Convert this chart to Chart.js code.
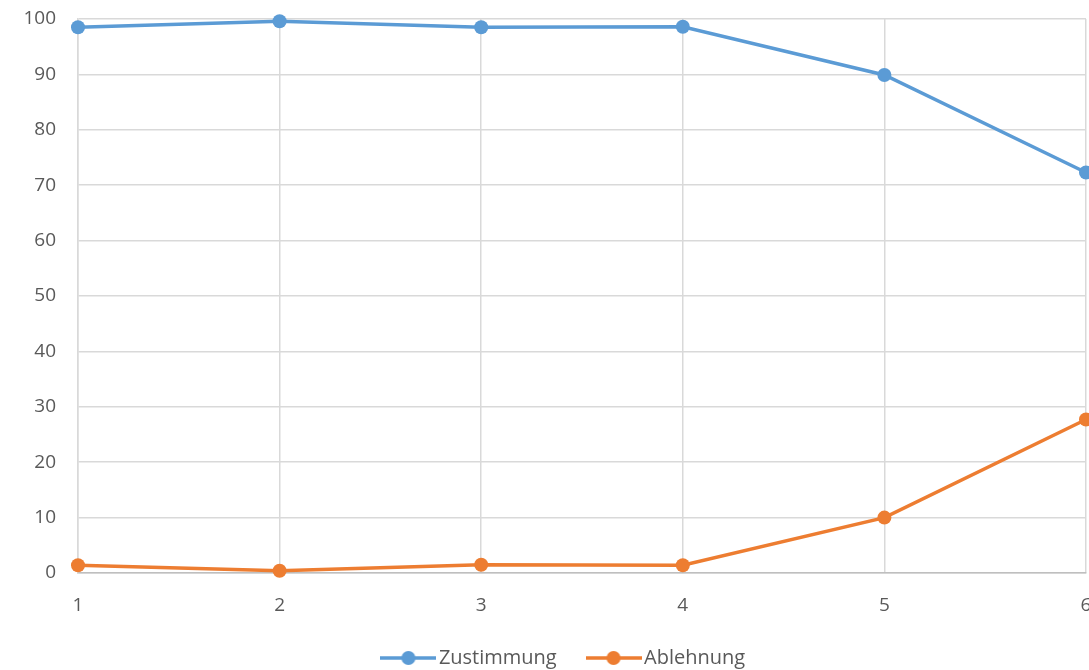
<!DOCTYPE html>
<html>
<head>
<meta charset="utf-8">
<script src="https://cdn.jsdelivr.net/npm/chart.js@4.4.1/dist/chart.umd.min.js"></script>
<style>
  html, body { margin: 0; padding: 0; background: #fff; overflow: hidden; }
  #wrap { width: 1089px; height: 670px; overflow: hidden; }
</style>
</head>
<body>
<div id="wrap"><canvas id="chart" width="1093" height="670"></canvas></div>
<script>
var categories = ['1', '2', '3', '4', '5', '6'];
var zustimmung = [98.5, 99.6, 98.5, 98.6, 89.9, 72.3];
var ablehnung = [1.4, 0.4, 1.5, 1.4, 10.0, 27.7];
var seriesNames = ['Zustimmung', 'Ablehnung'];
var blue = '#5B9BD5';
var orange = '#ED7D31';

// little line-with-dot marker for the legend
function legendMarker(color) {
    var c = document.createElement('canvas');
    c.width = 56;
    c.height = 16;
    var g = c.getContext('2d');
    g.strokeStyle = color;
    g.lineWidth = 3.5;
    g.beginPath();
    g.moveTo(0, 8);
    g.lineTo(56, 8);
    g.stroke();
    g.fillStyle = color;
    g.beginPath();
    g.arc(28, 8, 7, 0, Math.PI * 2);
    g.fill();
    return c;
}

// nudge the legend a bit to the right, like the original
var legendShift = {
    id: 'legendShift',
    afterLayout: function (chart) {
        if (chart.legend) {
            chart.legend.left += 20;
            chart.legend.right += 20;
        }
    }
};

var font = { family: "'Open Sans', 'Liberation Sans', sans-serif", size: 19 };
var legendFont = { family: "'Open Sans', 'Liberation Sans', sans-serif", size: 20 };

new Chart(document.getElementById('chart').getContext('2d'), {
    type: 'line',
    data: {
        labels: categories,
        datasets: [{
            label: seriesNames[0],
            data: zustimmung,
            borderColor: blue,
            backgroundColor: blue,
            borderWidth: 3.5,
            pointRadius: 7,
            pointHoverRadius: 7,
            pointBorderWidth: 0,
            pointStyle: 'circle',
            tension: 0,
            clip: false
        }, {
            label: seriesNames[1],
            data: ablehnung,
            borderColor: orange,
            backgroundColor: orange,
            borderWidth: 3.5,
            pointRadius: 7,
            pointHoverRadius: 7,
            pointBorderWidth: 0,
            pointStyle: 'circle',
            tension: 0,
            clip: false
        }]
    },
    plugins: [legendShift],
    options: {
        responsive: false,
        animation: false,
        layout: { padding: { top: 0, right: 0, left: 0, bottom: -8 } },
        plugins: {
            tooltip: { enabled: false },
            legend: {
                position: 'bottom',
                labels: {
                    font: legendFont,
                    color: '#595959',
                    usePointStyle: true,
                    pointStyleWidth: 41,
                    boxHeight: 16,
                    padding: 3,
                    generateLabels: function (chart) {
                        var n = chart.data.datasets.length;
                        return chart.data.datasets.map(function (ds, i) {
                            // trailing wide spaces give the gap between legend items
                            return {
                                text: i < n - 1 ? ds.label + '\u2003\u2002\u2009' : ds.label,
                                fontColor: '#595959',
                                pointStyle: legendMarker(ds.borderColor),
                                datasetIndex: i,
                                lineWidth: 0,
                                strokeStyle: 'transparent',
                                fillStyle: 'transparent'
                            };
                        });
                    }
                }
            }
        },
        scales: {
            x: {
                offset: false,
                grid: { color: '#d9d9d9', lineWidth: 1.5, drawTicks: false },
                border: { color: '#bfbfbf', width: 1.5 },
                ticks: { font: font, color: '#595959', padding: 21, maxRotation: 0 },
                afterFit: function (s) {
                    s.height = 72;
                    s.paddingLeft = 0;
                    s.paddingRight = 0;
                }
            },
            y: {
                min: 0,
                max: 100,
                grid: { color: '#d9d9d9', lineWidth: 1.5, drawTicks: false },
                border: { color: '#d9d9d9', width: 1.5 },
                ticks: { stepSize: 10, font: font, color: '#595959', padding: 22 },
                afterFit: function (s) {
                    s.width = 78;
                    s.paddingTop = 19;
                    s.paddingBottom = 0;
                }
            }
        }
    }
});
</script>
</body>
</html>
